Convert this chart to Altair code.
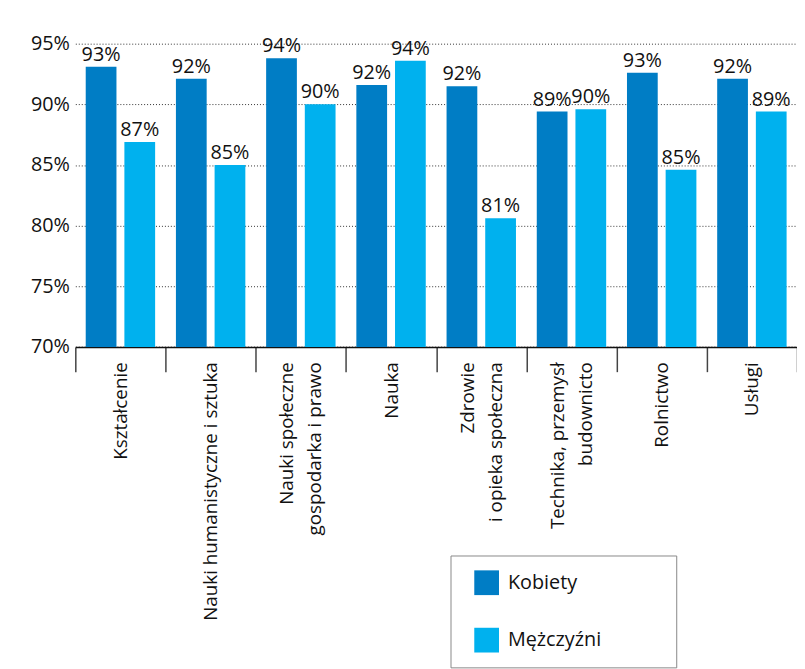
import altair as alt
import pandas as pd

categories = [
    "Kształcenie",
    "Nauki humanistyczne i sztuka",
    "Nauki społeczne\ngospodarka i prawo",
    "Nauka",
    "Zdrowie\ni opieka społeczna",
    "Technika, przemysł\nbudownicto",
    "Rolnictwo",
    "Usługi",
]
kobiety = [93.1, 92.1, 93.8, 91.6, 91.5, 89.4, 92.6, 92.1]
mezczyzni = [86.9, 85.0, 90.0, 93.6, 80.6, 89.6, 84.6, 89.4]
series = ["Kobiety", "Mężczyźni"]
colors = ["#007dc5", "#00b1ee"]
y_ticks = [70, 75, 80, 85, 90, 95]

rows = []
for c, k, m in zip(categories, kobiety, mezczyzni):
    rows.append({"kategoria": c, "plec": series[0], "wartosc": k})
    rows.append({"kategoria": c, "plec": series[1], "wartosc": m})
df = pd.DataFrame(rows)

FONT = "Open Sans"

# two-line labels: line1, blank half-line, line2 ; one-line labels: blank half-line, text
label_expr = (
    "indexof(datum.label, '\\n') >= 0 ? "
    "[split(datum.label, '\\n')[0], '\u200b', split(datum.label, '\\n')[1]] : "
    "['\u200b', datum.label]"
)

x_enc = alt.X(
    "kategoria:N",
    sort=categories,
    title=None,
    scale=alt.Scale(paddingInner=0, paddingOuter=0),
    axis=alt.Axis(
        labelAngle=-90,
        labelExpr=label_expr,
        labelLineHeight=14,
        labelOffset=-14,
        labelFontSize=19,
        labelFont=FONT,
        labelColor="#111111",
        labelPadding=-10,
        labelLimit=400,
        tickBand="extent",
        tickSize=25,
        tickColor="#444444",
        tickWidth=1.5,
        domainColor="#111111",
        domainWidth=1.5,
        grid=False,
    ),
)
xoff_enc = alt.XOffset(
    "plec:N", sort=series, scale=alt.Scale(paddingInner=0.205, paddingOuter=0.269)
)
y_enc = alt.Y(
    "wartosc:Q",
    title=None,
    scale=alt.Scale(domain=[70, 95], nice=False, zero=False),
    axis=alt.Axis(
        values=y_ticks,
        labelExpr="datum.value + '%'",
        labelFontSize=20,
        labelFont=FONT,
        labelColor="#111111",
        labelPadding=6,
        ticks=False,
        domain=False,
        grid=True,
        gridColor="#333333",
        gridDash=[1, 2],
        gridWidth=1,
    ),
)

bars = alt.Chart(df).mark_bar(clip=True).encode(
    x=x_enc,
    xOffset=xoff_enc,
    y=y_enc,
    color=alt.Color(
        "plec:N",
        sort=series,
        scale=alt.Scale(domain=series, range=colors),
        legend=alt.Legend(
            title=None,
            orient="none",
            legendX=379,
            legendY=517,
            fillColor="white",
            strokeColor="#888888",
            padding=15,
            symbolOffset=9,
            labelOffset=9,
            symbolType="square",
            symbolSize=625,
            symbolStrokeWidth=0,
            rowPadding=33,
            labelFontSize=20,
            labelFont=FONT,
            labelColor="#111111",
            labelLimit=400,
            labelExpr="datum.label + '\u2003\u2003\u2003\u200b'",
        ),
    ),
)

labels = (
    alt.Chart(df)
    .transform_calculate(lab="format(datum.wartosc, '.0f') + '%'")
    .mark_text(
        baseline="alphabetic",
        align="center",
        dy=-6,
        fontSize=20,
        font=FONT,
        color="#111111",
    )
    .encode(x=x_enc, xOffset=xoff_enc, y=y_enc, text="lab:N")
)

chart = (
    alt.layer(bars, labels)
    .properties(
        width=729,
        height=306.3,
        autosize=alt.AutoSizeParams(type="none"),
        padding={"left": 68, "top": 32.7, "right": 0, "bottom": 322},
    )
    .configure_view(stroke=None)
)

chart.save("out.html", embed_options={"renderer": "svg", "actions": False})
